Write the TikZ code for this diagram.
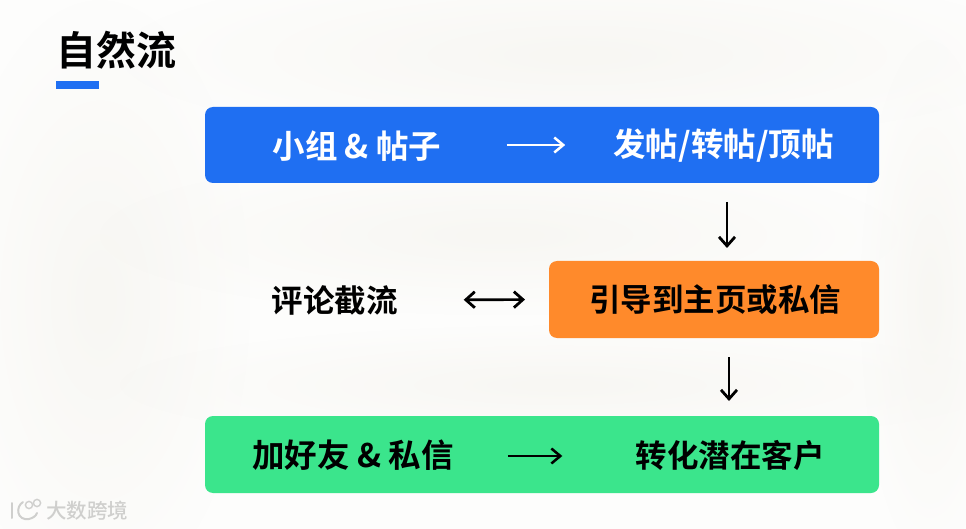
\documentclass[tikz,border=0pt]{standalone}
\usepackage{fontspec}
\usetikzlibrary{arrows.meta,fadings}
\newfontfamily\cjkmed{Noto Sans CJK SC Medium}
\newfontfamily\cjkbold{Noto Sans CJK SC Bold}
\definecolor{bluebox}{HTML}{1F6FF2}
\definecolor{orangebox}{HTML}{FF8A2B}
\definecolor{greenbox}{HTML}{3BE58C}
\definecolor{bgtint}{HTML}{F8F7F3}
\definecolor{wmgrey}{HTML}{CFCFCD}
\tikzfading[name=softpatch,inner color=transparent!0,outer color=transparent!100]
\tikzset{
  x=1pt,y=-1pt,
  box/.style={draw=none,rounded corners=8pt,inner sep=0pt,outer sep=0pt,anchor=north west},
  textlabel/.style={font=\fontsize{31.5}{36}\selectfont\cjkbold,inner sep=0pt,anchor=center},
  widelabel/.style={font=\fontsize{32.5}{36}\selectfont\cjkbold,inner sep=0pt,anchor=center},
  link/.style={draw=black,line width=2.7pt,-{Straight Barb[length=9pt,width=16pt,line width=2.8pt]}},
  linkboth/.style={draw=black,line width=2.7pt,{Straight Barb[length=9pt,width=16pt,line width=2.8pt]}-{Straight Barb[length=9pt,width=16pt,line width=2.8pt]}},
  linkflat/.style={line width=2.5pt,-{Straight Barb[length=9pt,width=15pt,line width=2.5pt]}},
  patch/.style={fill=bgtint,path fading=softpatch,draw=none},
}
\begin{document}
\begin{tikzpicture}
\useasboundingbox (0,0) rectangle (966,529);
\fill[white!75!bgtint] (0,0) rectangle (966,529);
% soft background patches
\path[patch] (100,300) ellipse (150 and 300);
\path[patch] (580,55) ellipse (460 and 90);
\path[patch] (500,235) ellipse (400 and 80);
\path[patch] (560,385) ellipse (440 and 60);
\path[patch] (930,300) ellipse (70 and 260);

% title
\node[inner sep=0pt,font=\fontsize{40}{44}\selectfont\cjkbold,text=black] (title) at (116.5,50) {自然流};
\path[fill=bluebox] (56,81) rectangle (99,89.5);

% boxes
\node[box,fill=bluebox,minimum width=674pt,minimum height=76pt] (blue) at (205,107) {};
\node[box,fill=orangebox,minimum width=330pt,minimum height=77pt] (orange) at (549,261) {};
\node[box,fill=greenbox,minimum width=674pt,minimum height=77pt] (green) at (205,416) {};

% labels
\node[widelabel,text=white] (a) at (357,146) {小组 \& 帖子};
\node[widelabel,text=white] (b) at (723.5,146) {发帖/转帖/顶帖};
\node[textlabel,text=black] (c) at (334.5,300) {评论截流};
\node[textlabel,text=black] (d) at (715,300) {引导到主页或私信};
\node[widelabel,text=black] (e) at (353,455) {加好友 \& 私信};
\node[textlabel,text=black] (f) at (730,455) {转化潜在客户};

% connectors
\draw[linkflat,draw=white,shorten <=65pt,shorten >=48pt] (a.east |- 0,145) -- (b.west |- 0,145);
\draw[linkflat,draw=black,shorten <=54pt,shorten >=73pt] (e.east |- 0,456) -- (f.west |- 0,456);
\draw[linkboth,shorten <=66pt,shorten >=24pt] (c.east) -- (orange.west);
\draw[link,shorten <=19pt,shorten >=13pt] (blue.south -| 727,0) -- (orange.north -| 727,0);
\draw[link,shorten <=19pt,shorten >=15pt] (orange.south -| 729,0) -- (green.north -| 729,0);

% watermark
\node[inner sep=0pt,anchor=west,font=\fontsize{20.5}{22}\selectfont\cjkmed,text=wmgrey] (wm) at (46,511) {大数跨境};
\draw[wmgrey,line width=2pt,line cap=round] (12,503) -- (12,518);
\draw[wmgrey,line width=2pt,line cap=round] (23,502) .. controls (15,507) and (17,521) .. (29,519) .. controls (33,518) and (36,516) .. (37,513);
\draw[wmgrey,line width=1.4pt] (29,505) circle (3.6);
\draw[wmgrey,line width=1.4pt] (37,503) circle (3.6);
\end{tikzpicture}
\end{document}
